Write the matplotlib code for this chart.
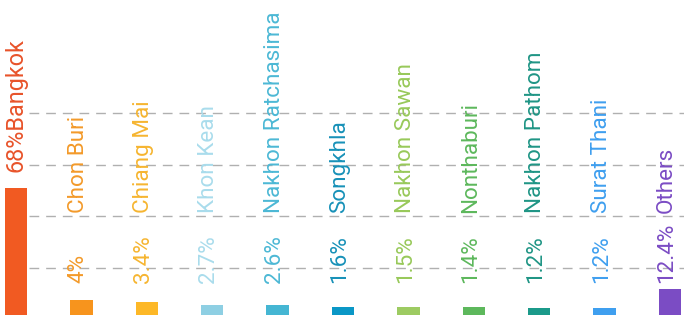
import matplotlib
matplotlib.use("Agg")
import matplotlib.pyplot as plt

provinces = ["Bangkok", "Chon Buri", "Chiang Mai", "Khon Kean", "Nakhon Ratchasima",
             "Songkhla", "Nakhon Sawan", "Nonthaburi", "Nakhon Pathom", "Surat Thani", "Others"]
share_labels = ["68%", "4%", "3.4%", "2.7%", "2.6%", "1.6%", "1.5%", "1.4%", "1.2%", "1.2%", "12.4%"]
bar_heights = [127, 15, 13, 10, 10, 8.5, 8.5, 8.5, 7.5, 7.5, 26]
bar_colors = ["#F15A22", "#F7941D", "#FDB827", "#8ECFE3", "#45B6D3", "#0A97C6",
              "#9DCB62", "#5DB85C", "#1B9A8A", "#3F9FEF", "#7B4CC4"]
text_colors = ["#E8532A", "#F39A2A", "#F6B530", "#A9DCEC", "#4CB8D5", "#1791B8",
               "#98C95A", "#5DB85C", "#1F9585", "#3F9FEF", "#7B4CC4"]
grid_levels = [47.5, 99, 150.5, 202]

plt.rcParams['font.family'] = ['Roboto', 'DejaVu Sans']

fig = plt.figure(figsize=(6.84, 3.15), dpi=100)
ax = fig.add_axes([0, 0, 1, 1])
x = list(range(len(provinces)))
ax.set_xlim(-0.245, 10.214)
ax.set_ylim(0, 315)

for g in grid_levels:
    ax.plot([0.2, 10.214], [g, g], color="#B0B0B0", lw=1.0, dashes=(7, 5), zorder=0)

ax.bar(x, bar_heights, width=0.34, color=bar_colors, zorder=2)

fs = 16.2
for i, (name, pct) in enumerate(zip(provinces, share_labels)):
    if i == 0:
        ax.text(x[i], 143, pct + name, rotation=90, rotation_mode='anchor',
                ha='left', va='center', fontsize=16.8, color=text_colors[i])
    else:
        ax.text(x[i] - 0.05, 32, pct, rotation=90, rotation_mode='anchor',
                ha='left', va='center', fontsize=fs, color=text_colors[i])
        ax.text(x[i] - 0.05, 102, name, rotation=90, rotation_mode='anchor',
                ha='left', va='center', fontsize=fs, color=text_colors[i])

ax.axis('off')
fig.savefig("out.png", dpi=100, facecolor="white")
